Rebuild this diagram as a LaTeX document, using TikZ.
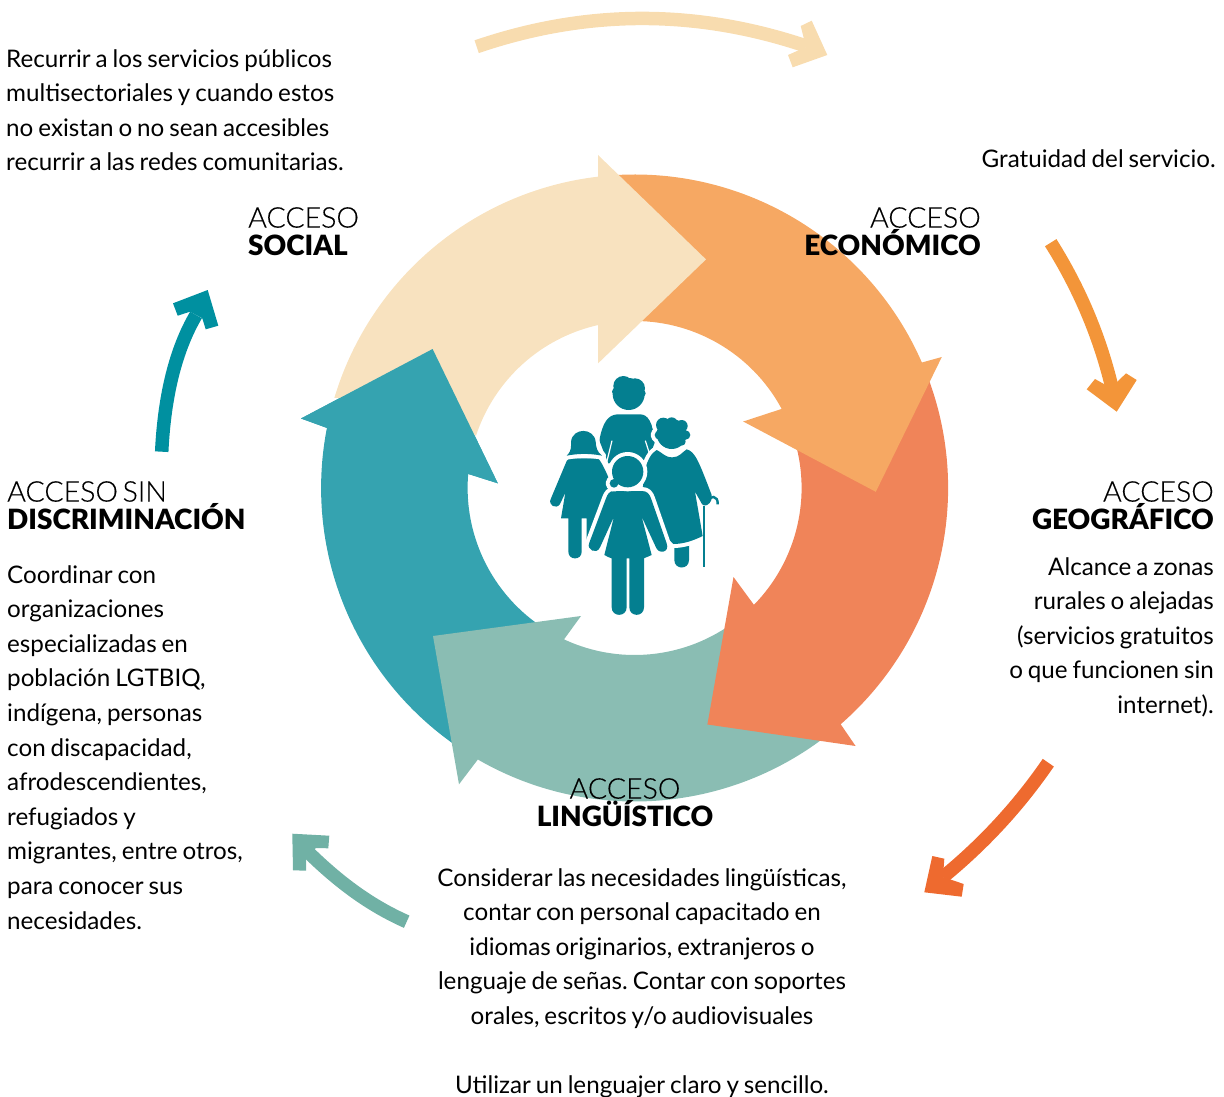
\documentclass[tikz,border=0pt]{standalone}
\usepackage{fontspec}
\usetikzlibrary{calc}
\setmainfont[WordSpace=0.8]{Lato}
\newfontfamily\latolight[WordSpace=0.6,FakeBold=0.3]{Lato Light}
\newfontfamily\latoblack{Lato Black}
\frenchspacing
\definecolor{cCream}{HTML}{F8E2BF}
\definecolor{cOrange}{HTML}{F6A863}
\definecolor{cCoral}{HTML}{F08459}
\definecolor{cGreen}{HTML}{8ABDB3}
\definecolor{cTeal}{HTML}{35A3B0}
\definecolor{cIcon}{HTML}{047F90}
\definecolor{aCream}{HTML}{F8DCAF}
\definecolor{aOrange}{HTML}{F39539}
\definecolor{aRed}{HTML}{EE6A2F}
\definecolor{aGreen}{HTML}{70B1A5}
\definecolor{aTeal}{HTML}{0090A0}
\tikzset{
  body/.style={inner sep=0pt,font=\fontsize{24.2}{34.6}\selectfont\frenchspacing},
  head/.style={inner sep=0pt,font=\fontsize{28.5}{28}\selectfont},
  shaft/.style={line width=13.5pt,line cap=butt},
}
\newcommand{\gfig}[1]{\draw[white,line width=8pt,line join=round] #1; \fill[cIcon] #1;}
\newcommand{\acc}[2]{{\latolight #1}\\[0pt]{\latoblack\fontsize{27.9}{28}\selectfont #2}}
\begin{document}
\begin{tikzpicture}[x=1pt,y=1pt,yscale=-1]
\useasboundingbox (0,0) rectangle (1224,1097);
\coordinate (C) at (634.6,488);
\def\R{313.5}\def\r{167}
% ring
\fill[cTeal] ($(C)+(122:\R)$) arc[start angle=122,end angle=191.05,radius=\R]
  -- (301,418.5) -- (432.6,349) -- (497.8,483.3) -- (468.4,474)
  -- ($(C)+(184.8:\r)$) arc[start angle=184.8,end angle=120,radius=\r] -- cycle;
\fill[cGreen] ($(C)+(50:\R)$) arc[start angle=50,end angle=120,radius=\R]
  -- (459,784.3) -- (433,636) -- (581,616) -- (564.3,639)
  -- ($(C)+(115:\r)$) arc[start angle=115,end angle=50,radius=\r] -- cycle;
\fill[cCoral] ($(C)+(-22:\R)$) arc[start angle=-22,end angle=48.9,radius=\R]
  -- (855.6,746) -- (707.4,724.5) -- (733.5,577) -- (753.7,604.5)
  -- ($(C)+(44.4:\r)$) arc[start angle=44.4,end angle=-18,radius=\r] -- cycle;
\fill[cOrange] ($(C)+(-95:\R)$) arc[start angle=-95,end angle=-23.6,radius=\R]
  -- (941.8,357) -- (875.8,491.8) -- (743.2,421.5) -- (782,408.8)
  -- ($(C)+(-28.25:\r)$) arc[start angle=-28.25,end angle=-92,radius=\r] -- cycle;
\fill[cCream] ($(C)+(196.7:\R)$) arc[start angle=196.7,end angle=263.3,radius=\R]
  -- (598,155) -- (706,259.4) -- (598,363.4) -- (598,324.7)
  -- ($(C)+(257.4:\r)$) arc[start angle=257.4,end angle=198.2,radius=\r] -- (430,400) -- cycle;
\fill[cTeal] (326.5,427.8) -- (301,418.5) -- (432.6,349) -- (497.8,483.3) -- (468.4,474) -- cycle;
% icon
\begin{scope}[shift={(540,370)},scale=1/3]
  % back woman
  \fill[cIcon] (266,72) circle[radius=48] (250,48) circle[radius=30] (285,55) circle[radius=30] (228,65) circle[radius=12] (305,70) circle[radius=12];
  \fill[cIcon] (232,133) -- (302,133) .. controls (325,135) and (335,155) .. (347,210)
     -- (325,270) -- (205,280) -- (178,212) .. controls (188,155) and (205,135) .. (232,133) -- cycle;
  \draw[white,line width=1.2pt] (216,212) -- (198,285) (316,212) -- (332,262);
  % left girl
  \gfig{(88,265) -- (175,265) .. controls (190,285) and (200,310) .. (215,345) -- (160,470) -- (140,510) -- (140,445) -- (125,445) -- (125,545) .. controls (125,572) and (85,572) .. (85,545) -- (85,445) -- (63,445) -- (76,368) -- (60,402) .. controls (48,420) and (22,405) .. (33,385) -- (75,285) .. controls (78,275) and (82,268) .. (88,265) -- cycle}
  \gfig{(80,257) .. controls (98,240) and (92,225) .. (93,215) .. controls (98,172) and (162,172) .. (167,215) .. controls (168,230) and (170,245) .. (186,257) .. controls (150,250) and (115,250) .. (80,257) -- cycle}
  % grandma
  \gfig{(403,515) -- (403,570) .. controls (403,600) and (447,600) .. (447,570) -- (447,515) -- cycle}
  \gfig{(350,240) .. controls (370,250) and (375,262) .. (397,262) .. controls (418,262) and (425,248) .. (440,238) .. controls (465,245) and (475,270) .. (515,375) .. controls (520,400) and (490,420) .. (482,395) -- (465,365) -- (488,498) .. controls (460,512) and (430,522) .. (400,522) -- (300,420) -- (315,300) .. controls (322,270) and (335,248) .. (350,240) -- cycle}
  \gfig{(395,192) circle[radius=45] (370,165) circle[radius=22] (395,160) circle[radius=18] (425,168) circle[radius=18] (437,195) circle[radius=14] (358,195) circle[radius=14] (425,215) circle[radius=12]}
  \draw[cIcon,line width=2.4pt] (492,590) -- (492,408);
  \draw[cIcon,line width=2.4pt] (500,395) .. controls (510,375) and (535,375) .. (533,403);
  % front girl
  \gfig{(222,363) -- (305,363) .. controls (322,363) and (328,372) .. (333,385) -- (380,520) .. controls (390,548) and (355,555) .. (347,530) -- (305,440) -- (335,555) .. controls (320,562) and (312,564) .. (312,565) -- (312,712) .. controls (312,742) and (268,742) .. (268,712) -- (268,565) -- (260,565) -- (260,712) .. controls (260,742) and (215,742) .. (215,712) -- (215,565) .. controls (210,563) and (200,560) .. (193,555) -- (222,440) -- (180,532) .. controls (170,555) and (138,540) .. (148,518) -- (198,385) .. controls (203,372) and (208,363) .. (222,363) -- cycle}
  \gfig{(263,305) circle[radius=47] (222,340) circle[radius=13]}
\end{scope}
% small arrows
\coordinate (a1) at (476.7,46.7); \coordinate (b1) at (806,46);
\draw[aCream,shaft] (a1) .. controls (586.2,9.3) and (696,9) .. (b1);
\fill[aCream] (811.7,20.7) -- (827.3,55) -- (792.7,67.3) -- (788,55) -- (806,47) -- (800.7,26) -- cycle;
\coordinate (a2) at (1050.7,242.7); \coordinate (b2) at (1113,392);
\draw[aOrange,shaft] (a2) .. controls (1080.1,289.3) and (1100.8,339) .. (b2);
\fill[aOrange] (1095,379) -- (1086.7,389.3) -- (1116.7,411.7) -- (1136.7,380) -- (1126,373.3) -- (1111,388) -- cycle;
\coordinate (a3) at (1048.3,762.7); \coordinate (b3) at (943,877);
\draw[aRed,shaft] (a3) .. controls (1019,805.4) and (983.9,843.5) .. (b3);
\fill[aRed] (932.3,856) -- (924.3,892.3) -- (961.7,896.7) -- (963.7,884) -- (943,877) -- (944.3,858.7) -- cycle;
\coordinate (a4) at (406.7,921.7); \coordinate (b4) at (305,849);
\draw[aGreen,shaft] (a4) .. controls (371.6,906.1) and (340,883.8) .. (b4);
\fill[aGreen] (329.3,835.7) -- (292.3,833.7) -- (293,870.3) -- (306,870.7) -- (306,857) -- (316,848) -- (328.3,848.3) -- cycle;
\coordinate (a5) at (161.7,451.7); \coordinate (b5) at (196,315);
\draw[aTeal,shaft] (a5) .. controls (164.4,395.4) and (175.8,349.4) .. (b5);
\fill[aTeal] (173,303.3) -- (177.7,315.7) -- (190,311.7) -- (202.3,318.3) -- (205.7,329.3) -- (218.3,325.7) -- (207.7,290) -- cycle;
% headings
\node[head,align=left,anchor=north west] (hS) at (248,207) {\acc{ACCESO}{SOCIAL}};
\node[head,align=right,anchor=north east] (hE) at (981,207) {\acc{ACCESO}{ECONÓMICO}};
\node[head,align=right,anchor=north east] (hG) at (1214,481) {\acc{ACCESO}{GEOGRÁFICO}};
\node[head,align=center,anchor=north] (hL) at (625,778) {\acc{ACCESO}{LINGÜÍSTICO}};
\node[head,align=left,anchor=north west] (hD) at (7,481) {\acc{ACCESO SIN}{DISCRIMINACIÓN}};
% body texts
\node[body,align=left,anchor=north west] (tS) at (6,49) {Recurrir a los servicios públicos\\multisectoriales y cuando estos\\no existan o no sean accesibles\\recurrir a las redes comunitarias.};
\node[body,align=right,anchor=north east] (tE) at (1216,149) {Gratuidad del servicio.};
\node[body,align=right,anchor=north east] (tG) at (1214,557) {Alcance a zonas\\rurales o alejadas\\(servicios gratuitos\\o que funcionen sin\\internet).};
\node[body,align=center,anchor=north] (tL) at (642,868) {Considerar las necesidades lingüísticas,\\contar con personal capacitado en\\idiomas originarios, extranjeros o\\lenguaje de señas. Contar con soportes\\orales, escritos y/o audiovisuales\\[34.6pt]Utilizar un lenguajer claro y sencillo.};
\node[body,align=left,anchor=north west] (tD) at (7,565) {Coordinar con\\organizaciones\\especializadas en\\población LGTBIQ,\\indígena, personas\\con discapacidad,\\afrodescendientes,\\refugiados y\\migrantes, entre otros,\\para conocer sus\\necesidades.};
\end{tikzpicture}
\end{document}
